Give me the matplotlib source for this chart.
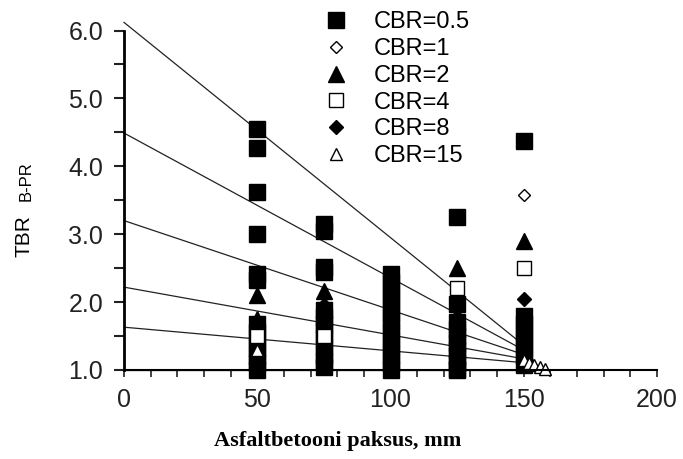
import numpy as np
import matplotlib.pyplot as plt

# ---- data ----
cbr_labels = ['CBR=0.5', 'CBR=1', 'CBR=2', 'CBR=4', 'CBR=8', 'CBR=15']

# CBR=0.5, filled squares (dense stacks at each thickness)
sq_x = [50]*13 + [75]*13 + [100]*13 + [125]*11 + [150]*8
sq_y = [4.55, 4.27, 3.62, 3.0, 2.42, 2.32, 1.68, 1.56, 1.44, 1.32, 1.2, 1.1, 1.0,
        3.15, 3.05, 2.52, 2.45, 1.88, 1.78, 1.68, 1.58, 1.46, 1.34, 1.22, 1.12, 1.05,
        2.42, 2.3, 2.18, 2.06, 1.94, 1.82, 1.7, 1.58, 1.46, 1.34, 1.22, 1.1, 1.0,
        3.25, 1.97, 1.7, 1.6, 1.5, 1.4, 1.3, 1.2, 1.1, 1.02, 1.0,
        4.37, 1.8, 1.68, 1.56, 1.44, 1.32, 1.2, 1.08]

# CBR=1, open diamonds
od_x = [50, 75, 100, 125, 150, 152]
od_y = [1.22, 1.2, 1.6, 1.3, 3.58, 1.12]

# CBR=2, filled triangles
ft_x = [50, 50, 75, 100, 125, 150]
ft_y = [2.1, 1.75, 2.17, 1.95, 2.5, 2.9]

# CBR=4, open squares
os_x = [50, 75, 125, 150]
os_y = [1.5, 1.5, 2.2, 2.5]

# CBR=8, filled diamonds
fd_x = [50, 75, 75, 100, 125, 150]
fd_y = [1.05, 1.95, 1.05, 1.03, 1.78, 2.05]

# CBR=15, open triangles
ot_x = [50, 150, 152, 154, 156, 158]
ot_y = [1.3, 1.15, 1.1, 1.07, 1.04, 1.02]

# regression lines: value at x=0 and at the end
line_x0 = 0
line_x1 = 152
line_start = [6.12, 4.49, 3.2, 2.22, 1.63, 1.0]
line_end = [1.3, 1.25, 1.2, 1.15, 1.1, 1.0]

x_ticks = np.arange(0, 201, 10)
y_ticks = np.arange(1.0, 6.01, 0.5)

plt.rcParams['font.family'] = ['Liberation Sans', 'DejaVu Sans']

fig = plt.figure(figsize=(6.83, 4.59), dpi=100)
ax = fig.add_axes([0.1816, 0.194, 0.7804, 0.769])

for a, b in zip(line_start, line_end):
    ax.plot([line_x0, line_x1], [a, b], color='#222222', linewidth=0.9, clip_on=False)

kw = dict(linestyle='none', clip_on=False)
# open diamonds mostly sit under the black stacks
h2, = ax.plot(od_x, od_y, marker='D', markersize=6, markerfacecolor='white',
              markeredgecolor='black', markeredgewidth=1, zorder=1.5, **kw)
h1, = ax.plot(sq_x, sq_y, marker='s', markersize=11, color='black', **kw)
h3, = ax.plot(ft_x, ft_y, marker='^', markersize=11, color='black', **kw)
h4, = ax.plot(os_x, os_y, marker='s', markersize=10, markerfacecolor='white',
              markeredgecolor='black', markeredgewidth=1, **kw)
h5, = ax.plot(fd_x, fd_y, marker='D', markersize=7, color='black', **kw)
h6, = ax.plot(ot_x, ot_y, marker='^', markersize=9, markerfacecolor='white',
              markeredgecolor='black', markeredgewidth=1, **kw)

ax.set_xlim(0, 200)
ax.set_ylim(1.0, 6.2)
for s in ['top', 'right']:
    ax.spines[s].set_visible(False)
ax.spines['left'].set_bounds(1.0, 6.0)
ax.spines['left'].set_linewidth(2)
ax.spines['bottom'].set_linewidth(1.5)

ax.set_xticks(x_ticks)
ax.set_xticklabels([str(v) if v % 50 == 0 else '' for v in x_ticks])
ax.set_yticks(y_ticks)
ax.set_yticklabels(['%.1f' % v if v % 1 == 0 else '' for v in y_ticks])
ax.tick_params(axis='y', direction='out', length=7, width=1.5, pad=8,
               labelsize=18, colors='#222222')
ax.tick_params(axis='x', direction='out', length=5, width=1.2, pad=8,
               labelsize=18, colors='#222222')

leg = fig.legend([h1, h2, h3, h4, h5, h6], cbr_labels, loc='upper left',
                 bbox_to_anchor=(0.474, 0.975), frameon=False, fontsize=17,
                 handlelength=1.0, handletextpad=1.1, labelspacing=0.2,
                 borderpad=0, borderaxespad=0)

fig.text(0.049, 0.485, 'TBR', rotation=90, fontsize=15, ha='right', va='center')
fig.text(0.049, 0.605, 'B-PR', rotation=90, fontsize=12, ha='right', va='center')

fig.text(0.495, 0.04, 'Asfaltbetooni paksus, mm', family='Liberation Serif',
         fontweight='bold', fontsize=16, ha='center', va='center')

fig.savefig('out.png', dpi=100)
